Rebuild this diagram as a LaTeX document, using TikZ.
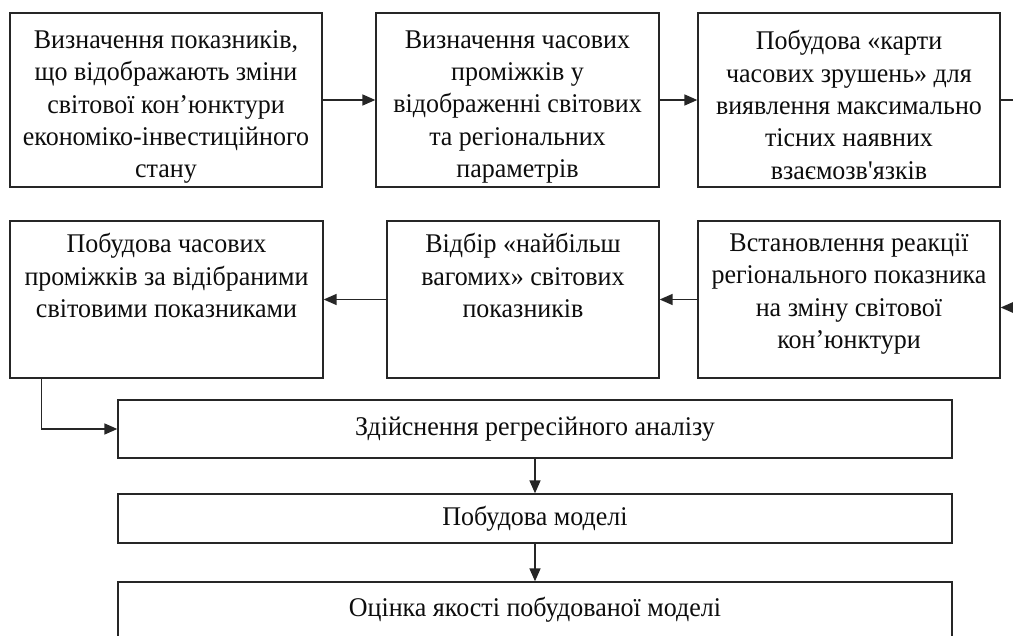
\documentclass[tikz,border=0pt]{standalone}
\usepackage{fontspec}
\setmainfont{Liberation Serif}[FakeStretch=0.963]
\usetikzlibrary{arrows.meta}
\begin{document}
\begin{tikzpicture}[x=1pt,y=-1pt,
  box/.style={draw=black!85, line width=1.3pt, inner sep=0pt},
  txt/.style={align=center, font=\fontsize{27}{32.3}\selectfont, text=black!95, inner sep=0pt},
  arr/.style={draw=black!85, line width=1.6pt, -{Triangle[length=13pt,width=11pt]}}]
\useasboundingbox (0,0) rectangle (1013,636);
% row 1
\node[box, minimum width=312pt, minimum height=174pt] (b1) at (166,100) {};
\node[box, minimum width=283pt, minimum height=174pt] (b2) at (517.5,100) {};
\node[box, minimum width=302pt, minimum height=174pt] (b3) at (849,100) {};
\node[txt, anchor=north] (t1) at ([yshift=-18pt]b1.north)
  {Визначення показників,\\що відображають зміни\\світової кон’юнктури\\економіко-інвестиційного\\стану};
\node[txt, anchor=north] (t2) at ([yshift=-18pt]b2.north)
  {Визначення часових\\проміжків у\\відображенні світових\\та регіональних\\параметрів};
\node[txt, anchor=north] (t3) at ([yshift=-18pt]b3.north)
  {Побудова «карти\\часових зрушень» для\\виявлення максимально\\тісних наявних\\взаємозв\textquotesingle язків};
% row 2
\node[box, minimum width=313pt, minimum height=157pt] (b4) at (166.5,299.5) {};
\node[box, minimum width=272pt, minimum height=157pt] (b5) at (523,299.5) {};
\node[box, minimum width=302pt, minimum height=157pt] (b6) at (849,299.5) {};
\node[txt, anchor=north] (t4) at ([yshift=-13pt]b4.north)
  {Побудова часових\\проміжків за відібраними\\світовими показниками};
\node[txt, anchor=north] (t5) at ([yshift=-13pt]b5.north)
  {Відбір «найбільш\\вагомих» світових\\показників};
\node[txt, anchor=north] (t6) at ([yshift=-13pt]b6.north)
  {Встановлення реакції\\регіонального показника\\на зміну світової\\кон’юнктури};
% bottom
\node[box,txt, minimum width=834pt, minimum height=58pt] (b7) at (535,429)
  {Здійснення регресійного аналізу};
\node[box,txt, minimum width=834pt, minimum height=49pt] (b8) at (535,518.5)
  {Побудова моделі};
\node[box,txt, minimum width=834pt, minimum height=56pt] (b9) at (535,610)
  {Оцінка якості побудованої моделі};
% connectors
\draw[arr] (b1.east) -- (b2.west);
\draw[arr] (b2.east) -- (b3.west);
\draw[arr] (b3.east) -- ++(40,0) |- ([yshift=-8pt]b6.east);
\draw[arr] (b6.west |- b5.east) -- (b5.east);
\draw[arr] (b5.west) -- (b4.east);
\draw[arr] ([xshift=32pt]b4.south west) |- (b7.west);
\draw[arr] (b7.south) -- (b8.north);
\draw[arr] (b8.south) -- (b9.north);
\end{tikzpicture}
\end{document}
